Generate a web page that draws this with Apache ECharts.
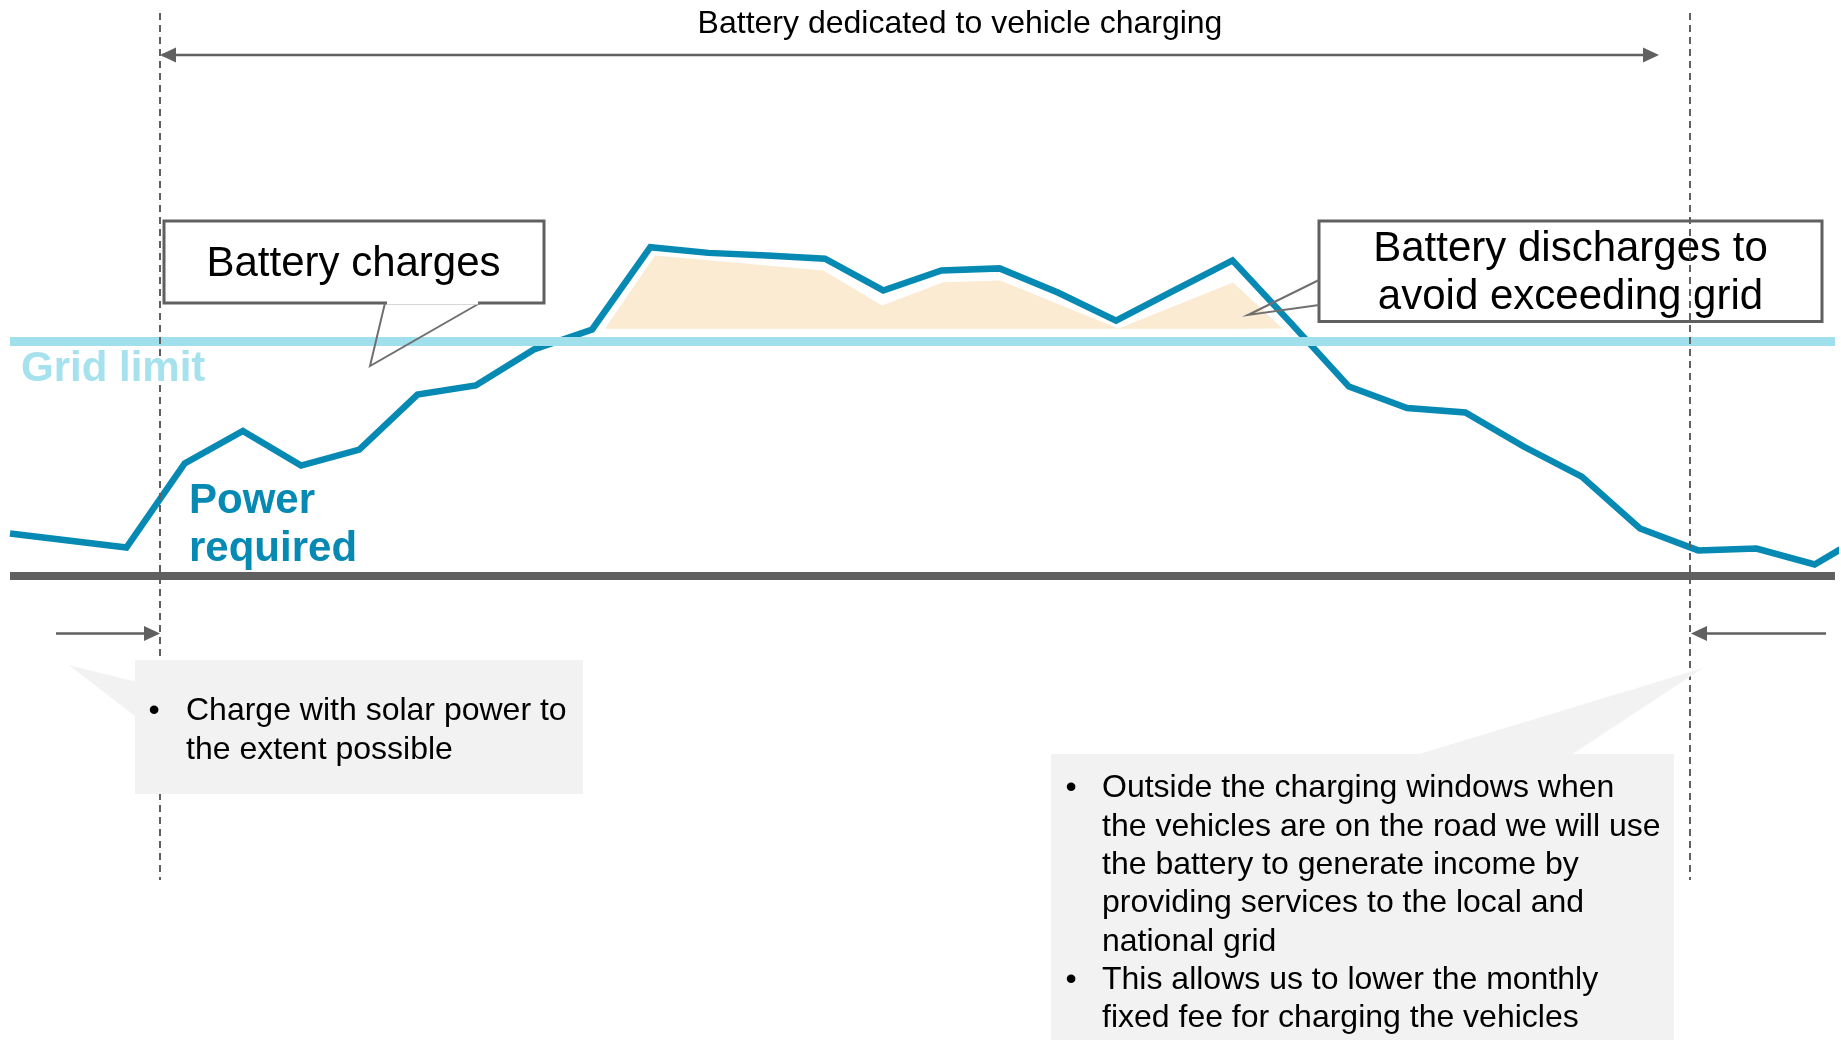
<!DOCTYPE html>
<html>
<head>
<meta charset="utf-8">
<title>Battery dedicated to vehicle charging</title>
<script src="https://cdn.jsdelivr.net/npm/echarts@6.0.0/dist/echarts.min.js"></script>
<style>
  html, body { margin: 0; padding: 0; background: #fff; }
  #main { width: 1841px; height: 1040px; }
</style>
</head>
<body>
<div id="main"></div>
<script>
// power profile through the day, one value per time slot (baseline = 0, grid limit = 100)
const timeSlot = [0, 1, 2, 3, 4, 5, 6, 7, 8, 9, 10, 11, 12, 13, 14, 15, 16,
  17, 18, 19, 20, 21, 22, 23, 24, 25, 26, 27, 28, 29, 30, 31, 32];
const powerRequired = [18.1, 15.1, 12.1, 47.9, 61.7, 47.0, 53.8, 77.2, 81.1, 96.4, 104.9,
  139.9, 137.5, 136.4, 135.0, 121.5, 130.0, 130.9, 120.6, 108.7, 121.5, 134.3,
  107.7, 80.6, 71.5, 69.6, 55.1, 42.3, 20.2, 10.9, 11.7, 4.9, 19.5];
const gridLimit = 100;

// part covered by the battery discharging
const dischargeSlot = [10.22, 11.08, 13.97, 14.98, 16.03, 17.01, 19.04, 21.01, 21.86];
const dischargeTop = [105.2, 136.4, 130.0, 115.1, 125.0, 125.7, 105.3, 124.9, 105.3];
const dischargeBase = 105.2;

const lineColor = '#0689b2';
const limitColor = '#a0e0ec';
const darkGrey = '#606060';
const font = '"Liberation Sans", Arial, sans-serif';

let powerData = timeSlot.map(function (t, i) { return [t, powerRequired[i]]; });
let dischargeData = dischargeSlot.map(function (t, i) { return [t, dischargeTop[i]]; });

function arrowHead(x, y, dir) {
  // dir 1 = pointing right, -1 = pointing left
  return {
    type: 'polygon', z: 20,
    shape: { points: [[x, y], [x - dir * 16, y - 7.5], [x - dir * 16, y + 7.5]] },
    style: { fill: darkGrey }
  };
}

let graphics = [
  // title + top arrow
  { type: 'text', x: 960, y: 24.5, z: 20,
    style: { text: 'Battery dedicated to vehicle charging', font: '32px ' + font, fill: '#000',
      align: 'center', verticalAlign: 'middle' } },
  { type: 'line', z: 20, shape: { x1: 162, y1: 55, x2: 1650, y2: 55 },
    style: { stroke: darkGrey, lineWidth: 2.7 } },
  arrowHead(160, 55, -1),
  arrowHead(1659, 55, 1),

  // window boundaries
  { type: 'line', z: 10, shape: { x1: 160, y1: 13, x2: 160, y2: 880 },
    style: { stroke: darkGrey, lineWidth: 2, lineDash: [7, 5] } },
  { type: 'line', z: 30, shape: { x1: 1690, y1: 13, x2: 1690, y2: 880 },
    style: { stroke: darkGrey, lineWidth: 2, lineDash: [7, 5] } },

  // bottom arrows
  { type: 'line', z: 20, shape: { x1: 56, y1: 633.5, x2: 150, y2: 633.5 },
    style: { stroke: darkGrey, lineWidth: 2.7 } },
  arrowHead(160, 633.5, 1),
  { type: 'line', z: 20, shape: { x1: 1700, y1: 633.5, x2: 1826, y2: 633.5 },
    style: { stroke: darkGrey, lineWidth: 2.7 } },
  arrowHead(1691, 633.5, -1),

  // callout: battery charges
  { type: 'rect', z: 20, shape: { x: 164, y: 221, width: 380, height: 82 },
    style: { fill: null, stroke: darkGrey, lineWidth: 3 } },
  { type: 'polyline', z: 21, shape: { points: [[385, 303], [370, 366], [480, 303]] },
    style: { fill: null, stroke: '#707070', lineWidth: 2 } },
  { type: 'rect', z: 21, shape: { x: 387, y: 300, width: 91, height: 4.5 },
    style: { fill: '#fff' } },
  { type: 'text', x: 353.5, y: 264.5, z: 22,
    style: { text: 'Battery charges', font: '42px ' + font, fill: '#000',
      align: 'center', verticalAlign: 'middle' } },

  // callout: battery discharges
  { type: 'rect', z: 20, shape: { x: 1319, y: 221, width: 503, height: 100.5 },
    style: { fill: null, stroke: darkGrey, lineWidth: 3 } },
  { type: 'polyline', z: 21, shape: { points: [[1319, 280], [1248, 315], [1319, 305]] },
    style: { fill: null, stroke: '#707070', lineWidth: 2 } },
  { type: 'text', x: 1570.5, y: 273.5, z: 22,
    style: { text: 'Battery discharges to\navoid exceeding grid', font: '42px ' + font, fill: '#000',
      align: 'center', verticalAlign: 'middle', lineHeight: 48 } },

  // series labels
  { type: 'text', x: 21, y: 369, z: 20,
    style: { text: 'Grid limit', font: 'bold 42px ' + font, fill: '#a6e2ed',
      align: 'left', verticalAlign: 'middle' } },
  { type: 'text', x: 189, y: 525.5, z: 20,
    style: { text: 'Power\nrequired', font: 'bold 42px ' + font, fill: lineColor,
      align: 'left', verticalAlign: 'middle', lineHeight: 48.5 } },

  // grey note boxes
  { type: 'polygon', z: 40, shape: { points: [[68.6, 665], [136, 681.7], [136, 716.7]] },
    style: { fill: '#f2f2f2' } },
  { type: 'rect', z: 40, shape: { x: 135, y: 660, width: 448, height: 134 },
    style: { fill: '#f2f2f2' } },
  { type: 'text', x: 154, y: 711, z: 41,
    style: { text: '•', font: '32px ' + font, fill: '#000', align: 'center', verticalAlign: 'middle' } },
  { type: 'text', x: 186, y: 730.5, z: 41,
    style: { text: 'Charge with solar power to\nthe extent possible', font: '32px ' + font,
      fill: '#000', align: 'left', verticalAlign: 'middle', lineHeight: 39 } },

  { type: 'polygon', z: 40, shape: { points: [[1703, 668], [1416, 755], [1571, 755]] },
    style: { fill: '#f2f2f2' } },
  { type: 'rect', z: 40, shape: { x: 1051, y: 754, width: 623, height: 286 },
    style: { fill: '#f2f2f2' } },
  { type: 'text', x: 1071, y: 788.5, z: 41,
    style: { text: '•', font: '32px ' + font, fill: '#000', align: 'center', verticalAlign: 'middle' } },
  { type: 'text', x: 1071, y: 980, z: 41,
    style: { text: '•', font: '32px ' + font, fill: '#000', align: 'center', verticalAlign: 'middle' } },
  { type: 'text', x: 1102, y: 903.4, z: 41,
    style: { text: 'Outside the charging windows when\nthe vehicles are on the road we will use\n' +
      'the battery to generate income by\nproviding services to the local and\nnational grid\n' +
      'This allows us to lower the monthly\nfixed fee for charging the vehicles',
      font: '32px ' + font, fill: '#000', align: 'left', verticalAlign: 'middle', lineHeight: 38.3 } }
];

let option = {
  animation: false,
  backgroundColor: '#fff',
  grid: { left: 10, right: 6, top: 12, bottom: 41 },
  xAxis: {
    type: 'value', min: 0, max: 31.35,
    axisLine: { show: true, onZero: true, lineStyle: { color: darkGrey, width: 8, cap: 'butt' } },
    axisTick: { show: false }, axisLabel: { show: false }, splitLine: { show: false }
  },
  yAxis: {
    type: 'value', min: -180, max: 240,
    axisLine: { show: false }, axisTick: { show: false }, axisLabel: { show: false },
    splitLine: { show: false }
  },
  series: [
    {
      name: 'Battery discharge',
      type: 'line',
      z: 2,
      data: dischargeData,
      symbol: 'none',
      lineStyle: { width: 0, opacity: 0 },
      areaStyle: { color: '#fbebd2', opacity: 1, origin: dischargeBase },
      markLine: {
        silent: true,
        symbol: ['none', 'none'],
        label: { show: false },
        lineStyle: { color: limitColor, width: 9, type: 'solid', cap: 'butt' },
        data: [{ yAxis: gridLimit }]
      }
    },
    {
      name: 'Power required',
      type: 'line',
      z: 3,
      data: powerData,
      symbol: 'none',
      lineStyle: { color: lineColor, width: 6.5, join: 'miter' }
    }
  ],
  graphic: graphics
};

let myChart = echarts.init(document.getElementById('main'));
myChart.setOption(option);
window.addEventListener('resize', function () {
  myChart.resize();
});
</script>
</body>
</html>
